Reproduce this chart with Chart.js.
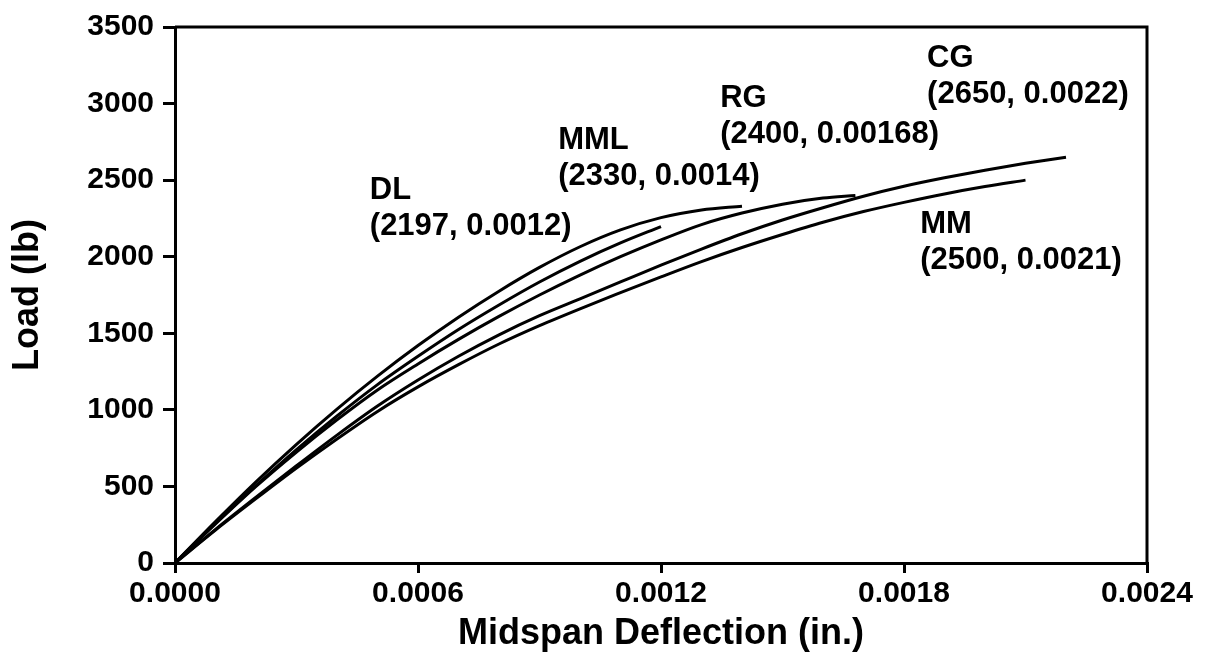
<!DOCTYPE html>
<html>
<head>
<meta charset="utf-8">
<title>Load vs Midspan Deflection</title>
<script src="https://cdn.jsdelivr.net/npm/chart.js@4/dist/chart.umd.min.js"></script>
<style>
  html, body { margin: 0; padding: 0; background: #fff; }
</style>
</head>
<body>
<canvas id="loadChart" width="1214" height="669"></canvas>
<script>
// load-deflection curves, deflection in inches, load in lb
const names = ['DL', 'MML', 'RG', 'CG', 'MM'];

const dlDefl = [0, 0.0001, 0.0002, 0.0003, 0.0004, 0.0005, 0.0006, 0.0007, 0.0008, 0.0009, 0.0010, 0.0011, 0.0012];
const dlLoad = [0, 260, 505, 740, 960, 1165, 1350, 1525, 1685, 1835, 1970, 2090, 2197];

const mmlDefl = [0, 0.0001, 0.0002, 0.0003, 0.0004, 0.0005, 0.0006, 0.0007, 0.0008, 0.0009, 0.0010, 0.0011, 0.0012, 0.0013, 0.0014];
const mmlLoad = [0, 270, 530, 775, 1005, 1220, 1420, 1605, 1775, 1930, 2065, 2175, 2255, 2305, 2330];

const rgDefl = [0, 0.0001, 0.0002, 0.0003, 0.0004, 0.0005, 0.0006, 0.0007, 0.0008, 0.0009, 0.0010, 0.0011, 0.0012, 0.0013, 0.0014, 0.0015, 0.0016, 0.00168];
const rgLoad = [0, 255, 500, 725, 935, 1130, 1300, 1460, 1610, 1750, 1880, 2000, 2110, 2210, 2285, 2343, 2383, 2400];

const cgDefl = [0, 0.0001, 0.0002, 0.0003, 0.0004, 0.0005, 0.0006, 0.0007, 0.0008, 0.0009, 0.0010, 0.0011, 0.0012, 0.0013, 0.0014, 0.0015, 0.0016, 0.0017, 0.0018, 0.0019, 0.0020, 0.0021, 0.0022];
const cgLoad = [0, 220, 430, 635, 835, 1025, 1195, 1350, 1490, 1615, 1725, 1835, 1945, 2050, 2150, 2240, 2320, 2395, 2460, 2515, 2565, 2610, 2650];

const mmDefl = [0, 0.0001, 0.0002, 0.0003, 0.0004, 0.0005, 0.0006, 0.0007, 0.0008, 0.0009, 0.0010, 0.0011, 0.0012, 0.0013, 0.0014, 0.0015, 0.0016, 0.0017, 0.0018, 0.0019, 0.0020, 0.0021];
const mmLoad = [0, 215, 420, 620, 810, 990, 1150, 1295, 1430, 1550, 1660, 1765, 1868, 1968, 2060, 2145, 2225, 2295, 2355, 2410, 2458, 2500];

const xTicks = [0, 0.0006, 0.0012, 0.0018, 0.0024];
const yTicks = [0, 500, 1000, 1500, 2000, 2500, 3000, 3500];

const series = [
  { defl: dlDefl, load: dlLoad },
  { defl: mmlDefl, load: mmlLoad },
  { defl: rgDefl, load: rgLoad },
  { defl: cgDefl, load: cgLoad },
  { defl: mmDefl, load: mmLoad }
];

// where each curve's name goes (deflection, load of first text baseline)
const labelAt = [
  [0.000481, 2375],
  [0.000946, 2706],
  [0.001346, 2975],
  [0.001857, 3240],
  [0.001840, 2153]
];

const FONT = '"Liberation Sans", Arial, Helvetica, sans-serif';

const curveLabels = {
  id: 'curveLabels',
  afterDatasetsDraw(chart) {
    const { ctx, chartArea: a, scales: { x, y } } = chart;
    ctx.save();

    // box around the plot
    ctx.strokeStyle = '#000';
    ctx.lineWidth = 3;
    ctx.beginPath();
    ctx.moveTo(a.left, a.top);
    ctx.lineTo(a.right, a.top);
    ctx.lineTo(a.right, a.bottom);
    ctx.stroke();

    ctx.fillStyle = '#000';
    ctx.font = 'bold 31px ' + FONT;
    ctx.textAlign = 'left';
    ctx.textBaseline = 'alphabetic';
    names.forEach((name, i) => {
      const s = series[i];
      const px = x.getPixelForValue(labelAt[i][0]);
      const py = y.getPixelForValue(labelAt[i][1]);
      const last = s.load.length - 1;
      ctx.fillText(name, px, py);
      ctx.fillText('(' + s.load[last] + ', ' + s.defl[last] + ')', px, py + 36);
    });
    ctx.restore();
  }
};

const datasets = names.map((name, i) => ({
  label: name,
  data: series[i].defl.map((d, j) => ({ x: d, y: series[i].load[j] })),
  borderColor: '#000',
  borderWidth: 3,
  pointRadius: 0,
  fill: false,
  cubicInterpolationMode: 'monotone'
}));

new Chart(document.getElementById('loadChart'), {
  type: 'line',
  data: { datasets },
  options: {
    responsive: false,
    animation: false,
    layout: { padding: { top: 25, right: 67, left: 0, bottom: 0 } },
    plugins: { legend: { display: false }, tooltip: { enabled: false } },
    scales: {
      x: {
        type: 'linear',
        min: 0,
        max: 0.0024,
        afterFit(scale) { scale.height = 106; },
        afterBuildTicks(scale) { scale.ticks = xTicks.map(v => ({ value: v })); },
        grid: { drawOnChartArea: false, drawTicks: true, tickLength: 10, color: '#000', lineWidth: 3 },
        border: { display: true, color: '#000', width: 3 },
        ticks: {
          color: '#000',
          padding: 3,
          maxRotation: 0,
          font: { family: FONT, size: 30, weight: 'bold' },
          callback: v => v.toFixed(4)
        },
        title: {
          display: true,
          text: 'Midspan Deflection (in.)',
          color: '#000',
          font: { family: FONT, size: 36, weight: 'bold' },
          padding: { top: 0, bottom: 13 }
        }
      },
      y: {
        min: 0,
        max: 3500,
        afterFit(scale) { scale.width = 175; },
        afterBuildTicks(scale) { scale.ticks = yTicks.map(v => ({ value: v })); },
        grid: { drawOnChartArea: false, drawTicks: true, tickLength: 12, color: '#000', lineWidth: 3 },
        border: { display: true, color: '#000', width: 3 },
        ticks: {
          color: '#000',
          padding: 9,
          font: { family: FONT, size: 30, weight: 'bold' },
          callback: v => String(v)
        },
        title: {
          display: true,
          text: 'Load (lb)',
          color: '#000',
          font: { family: FONT, size: 36, weight: 'bold' },
          padding: { top: 6, bottom: 0 }
        }
      }
    }
  },
  plugins: [curveLabels]
});
</script>
</body>
</html>
